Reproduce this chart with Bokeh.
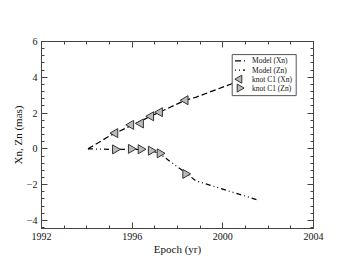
import numpy as np
from bokeh.plotting import figure
from bokeh.models import (LinearAxis, SingleIntervalTicker, Range1d,
                          BasicTickFormatter, CustomJSTickFormatter)
from bokeh.core.properties import value
from bokeh.embed import file_html
from bokeh.resources import INLINE

# --- data ---
model_xn_t = [1994.05, 1995.0, 1996.0, 1997.0, 1998.35, 1998.8, 2000.4, 2001.5]
model_xn_y = [0.0, 0.72, 1.33, 1.93, 2.72, 2.88, 3.64, 4.15]
model_zn_t = [1994.05, 1995.25, 1996.0, 1996.5, 1996.85, 1997.22, 1997.7, 1998.43, 1998.8, 2001.5]
model_zn_y = [0.0, -0.03, -0.02, -0.04, -0.1, -0.27, -0.73, -1.4, -1.78, -2.84]
knot_t = [1995.25, 1995.95, 1996.38, 1996.83, 1997.22, 1998.35]
knot_xn = [0.88, 1.34, 1.42, 1.82, 2.05, 2.72]
knot_zn = [-0.03, 0.0, -0.02, -0.1, -0.25, -1.4]
legend_labels = ["Model (Xn)", "Model (Zn)", "knot C1 (Xn)", "knot C1 (Zn)"]

FONT = "Liberation Serif"
AX = "#444444"
FW, FH = 272, 190

p = figure(width=337, height=257, output_backend="svg", toolbar_location=None,
           x_range=Range1d(1992, 2004), y_range=Range1d(-4.45, 6),
           min_border_left=41, min_border_right=24, min_border_top=41, min_border_bottom=26,
           x_axis_label="Epoch (yr)", y_axis_label="Xn, Zn (mas)")
p.grid.visible = False
p.outline_line_color = AX
p.background_fill_color = "white"
# pixel coordinate system of the plot frame, used only to lay out the legend box
p.extra_x_ranges = {"frame_px": Range1d(0, FW)}
p.extra_y_ranges = {"frame_px": Range1d(0, FH)}

xt = SingleIntervalTicker(interval=4, num_minor_ticks=4)
yt = SingleIntervalTicker(interval=2, num_minor_ticks=5)
p.xaxis.ticker = xt
p.yaxis.ticker = yt
blank = CustomJSTickFormatter(code="return ''")
p.add_layout(LinearAxis(ticker=xt, formatter=blank, axis_label=None, major_label_standoff=0), "above")
p.add_layout(LinearAxis(ticker=yt, formatter=blank, axis_label=None, major_label_standoff=0), "right")
for ax in p.axis:
    ax.axis_line_color = AX
    ax.major_tick_line_color = AX
    ax.minor_tick_line_color = AX
    ax.major_tick_in = 6
    ax.major_tick_out = 0
    ax.minor_tick_in = 3
    ax.minor_tick_out = 0
    ax.major_label_text_font = FONT
    ax.major_label_text_font_size = "10px"
    ax.major_label_text_color = "#111111"
    ax.axis_label_text_font = FONT
    ax.axis_label_text_font_style = "normal"
    ax.axis_label_text_font_size = "11px"
    ax.axis_label_text_color = "#111111"
p.below[0].major_label_standoff = 4
p.left[0].major_label_standoff = 4
p.below[0].axis_label_standoff = 0
p.left[0].axis_label_standoff = 0
p.left[0].formatter = BasicTickFormatter(use_scientific=False)
p.below[0].formatter = BasicTickFormatter(use_scientific=False)

DASH_XN = "6 3"
DASH_ZN = "5 3 1 3 1 3"
p.line(model_xn_t, model_xn_y, line_color="black", line_width=1.2, line_dash=DASH_XN)
p.line(model_zn_t, model_zn_y, line_color="black", line_width=1.2, line_dash=DASH_ZN)
MK = dict(marker="triangle", fill_color="#bbbbbb", line_color="#333333", line_width=1)
p.scatter(knot_t, knot_xn, angle=np.pi / 2, size=9, **MK)
p.scatter(knot_t, knot_zn, angle=-np.pi / 2, size=9, **MK)

# --- legend box (laid out in frame pixels) ---
BOX_L, BOX_R, BOX_B, BOX_T = 190.7, 254.7, 135.0, 176.7
ROW_Y = [170.3, 161.0, 151.7, 142.7]
KEY_X0, KEY_X1, KEY_XC, TXT_X = 193.5, 203.5, 198.0, 210.5
FR = dict(x_range_name="frame_px", y_range_name="frame_px")
p.quad(left=[BOX_L], right=[BOX_R], bottom=[BOX_B], top=[BOX_T], fill_color="white",
       line_color="#555555", line_width=1, **FR)
p.line([KEY_X0, KEY_X1], [ROW_Y[0]] * 2, line_color="black", line_width=1.2,
       line_dash=DASH_XN, **FR)
p.line([KEY_X0, KEY_X1], [ROW_Y[1]] * 2, line_color="black", line_width=1.2,
       line_dash=DASH_ZN, line_dash_offset=8, **FR)
p.scatter([KEY_XC], [ROW_Y[2]], angle=np.pi / 2, size=8, **MK, **FR)
p.scatter([KEY_XC], [ROW_Y[3]], angle=-np.pi / 2, size=8, **MK, **FR)
p.text(x=[TXT_X] * 4, y=ROW_Y, text=legend_labels, text_font=value(FONT),
       text_font_size="7.5px", text_baseline="middle", text_align="left",
       text_color="#111111", **FR)

open("out.html", "w").write(file_html(p, INLINE))
